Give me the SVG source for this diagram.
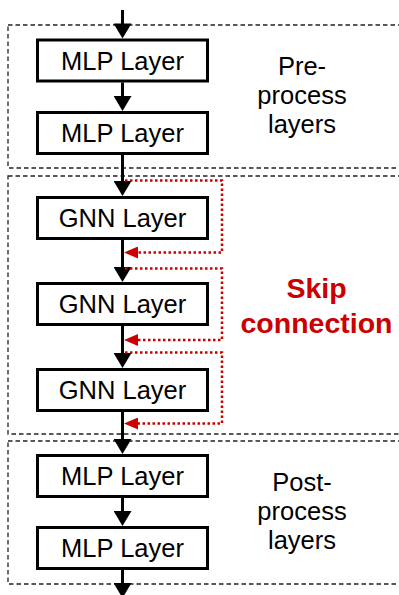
<svg xmlns="http://www.w3.org/2000/svg" width="399" height="595" viewBox="0 0 399 595">
<style>
.grp{fill:none;stroke:#222;stroke-width:1.3;stroke-dasharray:4.5 3}
.box{fill:#fff;stroke:#000;stroke-width:3}
.lbl{font-family:"Liberation Sans",Arial,sans-serif;font-size:25.5px;fill:#000;text-anchor:middle}
.side{font-family:"Liberation Sans",Arial,sans-serif;font-size:25.5px;fill:#000;text-anchor:middle}
.skiptxt{font-family:"Liberation Sans",Arial,sans-serif;font-size:28.5px;font-weight:bold;fill:#cc0000;text-anchor:middle}
.flow{fill:none;stroke:#000;stroke-width:3;marker-end:url(#ah)}
.skip{fill:none;stroke:#cc0000;stroke-width:2.5;stroke-dasharray:2.5 2.5;marker-end:url(#rh)}
</style>
<defs>
<marker id="ah" markerUnits="userSpaceOnUse" markerWidth="16" markerHeight="18" viewBox="0 0 15 18" refX="10" refY="9" orient="auto">
<path d="M0,0 L15,9 L0,18 z" fill="#000"/>
</marker>
<marker id="rh" markerUnits="userSpaceOnUse" markerWidth="15" markerHeight="12" viewBox="0 0 14 12" refX="9" refY="6" orient="auto">
<path d="M0,0 L14,6 L0,12 z" fill="#cc0000"/>
</marker>
</defs>
<g id="pre-group">
<rect class="grp" x="8" y="25" width="400" height="143"/>
<text class="side" x="302" y="75">Pre-</text>
<text class="side" x="302" y="104">process</text>
<text class="side" x="302" y="133">layers</text>
</g>
<g id="gnn-group">
<rect class="grp" x="8" y="176" width="400" height="258"/>
<text class="skiptxt" x="316.5" y="298">Skip</text>
<text class="skiptxt" x="316.5" y="333">connection</text>
</g>
<g id="post-group">
<rect class="grp" x="8" y="441" width="400" height="143"/>
<text class="side" x="302" y="491">Post-</text>
<text class="side" x="302" y="520">process</text>
<text class="side" x="302" y="549">layers</text>
</g>
<g id="connectors">
<line class="flow" x1="122.5" y1="10" x2="122.5" y2="33.5"/>
<line class="flow" x1="122.5" y1="82.5" x2="122.5" y2="106"/>
<line class="flow" x1="122.5" y1="155" x2="122.5" y2="191"/>
<line class="flow" x1="122.5" y1="240" x2="122.5" y2="277"/>
<line class="flow" x1="122.5" y1="326" x2="122.5" y2="363"/>
<line class="flow" x1="122.5" y1="412" x2="122.5" y2="449"/>
<line class="flow" x1="122.5" y1="498" x2="122.5" y2="521"/>
<line class="flow" x1="122.5" y1="570" x2="122.5" y2="593"/>
<path class="skip" d="M125,180.5 H222 V252.5 H129"/>
<path class="skip" d="M125,268.5 H222 V340 H129"/>
<path class="skip" d="M125,352.5 H222 V423.5 H129"/>
</g>
<g id="mlp1"><rect class="box" x="37.5" y="40" width="170" height="41"/><text class="lbl" x="122.5" y="69.5">MLP Layer</text></g>
<g id="mlp2"><rect class="box" x="37.5" y="112.5" width="170" height="41"/><text class="lbl" x="122.5" y="142">MLP Layer</text></g>
<g id="gnn1"><rect class="box" x="37.5" y="197.5" width="170" height="41"/><text class="lbl" x="122.5" y="227">GNN Layer</text></g>
<g id="gnn2"><rect class="box" x="37.5" y="283.5" width="170" height="41"/><text class="lbl" x="122.5" y="313">GNN Layer</text></g>
<g id="gnn3"><rect class="box" x="37.5" y="369.5" width="170" height="41"/><text class="lbl" x="122.5" y="399">GNN Layer</text></g>
<g id="mlp3"><rect class="box" x="37.5" y="455.5" width="170" height="41"/><text class="lbl" x="122.5" y="485">MLP Layer</text></g>
<g id="mlp4"><rect class="box" x="37.5" y="527.5" width="170" height="41"/><text class="lbl" x="122.5" y="557">MLP Layer</text></g>
</svg>
